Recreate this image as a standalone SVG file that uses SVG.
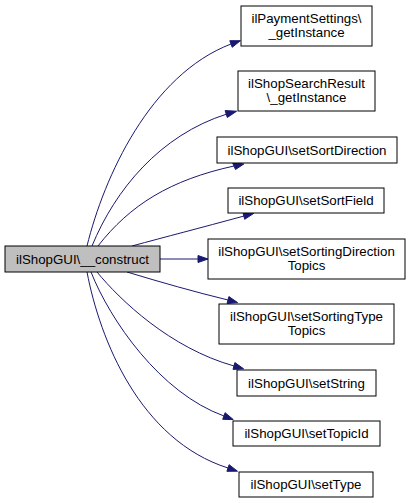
<svg xmlns="http://www.w3.org/2000/svg" width="411" height="503" viewBox="0 0 411 503">
<style>
.n rect{fill:#ffffff;stroke:#000000;stroke-width:1}
.n.main rect{fill:#bfbfbf}
.n text{font-family:"Liberation Sans",Arial,sans-serif;font-size:13.3px;text-anchor:middle;fill:#000000}
.e path{fill:none;stroke:#191970;stroke-width:1}
.e polygon{fill:#191970;stroke:#191970;stroke-width:1}
</style>
<rect width="411" height="503" fill="#ffffff"/>
<g id="edges" class="e">
<path d="M87,246 C104,177 150,75 231,44"/>
<path d="M92,246 C115,190 160,135 227,114"/>
<path d="M98,246 C130,205 170,180 234,166"/>
<path d="M132,246 C165,237 200,228 244,216"/>
<path d="M160,259 L198,259"/>
<path d="M127,272 C160,282 195,292 228,300"/>
<path d="M97,272 C120,300 170,348 234,366"/>
<path d="M91,272 C110,320 160,393 224,416"/>
<path d="M87,272 C100,340 140,440 228,468"/>
<polygon points="229.8,40.7 240.4,40.7 232.2,47.3"/>
<polygon points="225.1,110.6 236.6,111.2 227.3,117.5"/>
<polygon points="232.5,162.6 243.8,164 235.5,169.5"/>
<polygon points="242.9,212.5 253.7,213.4 244.7,219.3"/>
<polygon points="198,255.5 208,259 198,262.5"/>
<polygon points="228.9,296.6 237.6,302.6 227.1,303.4"/>
<polygon points="234.9,362.6 243.6,368.8 233,369.4"/>
<polygon points="225.1,412.7 233.3,419.6 222.7,419.3"/>
<polygon points="229.1,464.7 237.5,471.2 226.9,471.3"/>
</g>
<g id="node_construct" class="n main"><rect x="5" y="246" width="155" height="26"/><text x="82.5" y="263.5">ilShopGUI\__construct</text></g>
<g id="node_payment" class="n"><rect x="241" y="6" width="131" height="40"/><text x="306.5" y="22.5">ilPaymentSettings\</text><text x="306.5" y="37">_getInstance</text></g>
<g id="node_search" class="n"><rect x="238" y="71" width="137" height="40"/><text x="306.5" y="87.5">ilShopSearchResult</text><text x="306.5" y="102">\_getInstance</text></g>
<g id="node_sortdir" class="n"><rect x="217" y="137" width="180" height="26"/><text x="307" y="154.5">ilShopGUI\setSortDirection</text></g>
<g id="node_sortfield" class="n"><rect x="228" y="188" width="156" height="25"/><text x="306" y="205">ilShopGUI\setSortField</text></g>
<g id="node_sortingdir" class="n"><rect x="208" y="239" width="197" height="40"/><text x="306.5" y="255.5">ilShopGUI\setSortingDirection</text><text x="306.5" y="270">Topics</text></g>
<g id="node_sortingtype" class="n"><rect x="219" y="304" width="175" height="40"/><text x="306.5" y="320.5">ilShopGUI\setSortingType</text><text x="306.5" y="335">Topics</text></g>
<g id="node_string" class="n"><rect x="237" y="370" width="139" height="26"/><text x="306.5" y="387.5">ilShopGUI\setString</text></g>
<g id="node_topicid" class="n"><rect x="233" y="421" width="147" height="25"/><text x="306.5" y="438">ilShopGUI\setTopicId</text></g>
<g id="node_type" class="n"><rect x="239" y="472" width="134" height="25"/><text x="306" y="489">ilShopGUI\setType</text></g>
</svg>
